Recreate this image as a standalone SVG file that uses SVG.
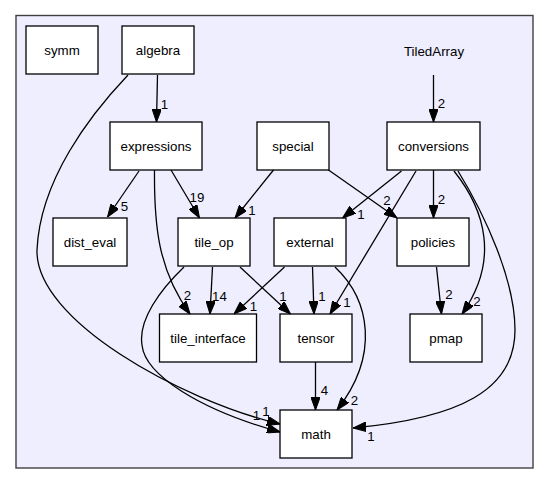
<svg xmlns="http://www.w3.org/2000/svg" width="549" height="485" viewBox="0 0 549 485">
<style>
.cl{fill:#eeeeff;stroke:#404040;stroke-width:1.4}
.nd{fill:#ffffff;stroke:#000000;stroke-width:1.3}
.t{font-family:"Liberation Sans",Arial,sans-serif;font-size:13.3px;fill:#000;text-anchor:middle}
.e{fill:none;stroke:#000;stroke-width:1.3;marker-end:url(#ah)}
.l{font-family:"Liberation Sans",Arial,sans-serif;font-size:13.3px;fill:#000;text-anchor:middle}
</style>
<defs>
<marker id="ah" markerUnits="userSpaceOnUse" viewBox="0 0 13 9.4" markerWidth="13" markerHeight="9.4" refX="13" refY="4.7" orient="auto">
<path d="M0,0 L13,4.7 L0,9.4 z" fill="#000" stroke="#000" stroke-width="1"/>
</marker>
</defs>
<rect x="0" y="0" width="549" height="485" fill="#ffffff"/>
<g id="cluster_TiledArray">
<rect class="cl" x="16" y="15.5" width="517" height="452.5"/>
<text class="t" x="434" y="55.5">TiledArray</text>
</g>
<g id="node_symm"><rect class="nd" x="26" y="26" width="72" height="48"/><text class="t" x="62" y="54.5">symm</text></g>
<g id="node_algebra"><rect class="nd" x="122" y="26" width="72" height="48"/><text class="t" x="158" y="54.5">algebra</text></g>
<g id="node_expressions"><rect class="nd" x="110" y="122" width="92" height="48"/><text class="t" x="156" y="150.5">expressions</text></g>
<g id="node_special"><rect class="nd" x="257" y="122" width="72" height="48"/><text class="t" x="293" y="150.5">special</text></g>
<g id="node_conversions"><rect class="nd" x="387" y="122" width="93" height="48"/><text class="t" x="433.5" y="150.5">conversions</text></g>
<g id="node_dist_eval"><rect class="nd" x="53" y="218" width="74" height="48"/><text class="t" x="90" y="246.5">dist_eval</text></g>
<g id="node_tile_op"><rect class="nd" x="178" y="218" width="72" height="48"/><text class="t" x="214" y="246.5">tile_op</text></g>
<g id="node_external"><rect class="nd" x="274" y="218" width="72" height="48"/><text class="t" x="310" y="246.5">external</text></g>
<g id="node_policies"><rect class="nd" x="397" y="218" width="72" height="48"/><text class="t" x="433" y="246.5">policies</text></g>
<g id="node_tile_interface"><rect class="nd" x="159.5" y="314" width="97" height="48"/><text class="t" x="208" y="342.5">tile_interface</text></g>
<g id="node_tensor"><rect class="nd" x="280" y="314" width="72" height="48"/><text class="t" x="316" y="342.5">tensor</text></g>
<g id="node_pmap"><rect class="nd" x="410" y="314" width="72" height="48"/><text class="t" x="446" y="342.5">pmap</text></g>
<g id="node_math"><rect class="nd" x="280" y="410" width="72" height="48"/><text class="t" x="316" y="438.5">math</text></g>
<g id="connectors">
<path class="e" d="M157.5,75 L156.5,122"/>
<text class="l" x="164.5" y="108.5">1</text>
<path class="e" d="M433.5,75 L433.5,122"/>
<text class="l" x="441.5" y="108">2</text>
<path class="e" d="M128,75 C90,115 40,180 37,250 C35,320 180,400 280,424"/>
<text class="l" x="266" y="416">1</text>
<path class="e" d="M139,171 L107.5,217"/>
<text class="l" x="124.5" y="211">5</text>
<path class="e" d="M171,170 L199.5,218"/>
<text class="l" x="197" y="202">19</text>
<path class="e" d="M154.5,170 C154,225 158,270 190,314"/>
<text class="l" x="187.5" y="299.5">2</text>
<path class="e" d="M273.5,170 L235,218"/>
<text class="l" x="252" y="214.5">1</text>
<path class="e" d="M328.5,170 L397,218"/>
<text class="l" x="387" y="205">2</text>
<path class="e" d="M401.5,171 L342.5,218"/>
<text class="l" x="361" y="218.5">1</text>
<path class="e" d="M416,171 L330,314"/>
<text class="l" x="347" y="307">1</text>
<path class="e" d="M433.5,170 L433.5,218"/>
<text class="l" x="441.5" y="204">2</text>
<path class="e" d="M454,171 C485,210 500,260 462,314"/>
<text class="l" x="477" y="306">2</text>
<path class="e" d="M458,171 C485,215 515,280 515,330 C515,390 460,418 353,428"/>
<text class="l" x="371" y="441">1</text>
<path class="e" d="M184,267 C160,290 138,320 142,345 C145,375 200,410 280,432"/>
<text class="l" x="256.5" y="420">1</text>
<path class="e" d="M212.5,267 L210,314"/>
<text class="l" x="219.5" y="301">14</text>
<path class="e" d="M240,267 L290.5,314"/>
<text class="l" x="283" y="300.5">1</text>
<path class="e" d="M284.5,267 L234,314"/>
<text class="l" x="253.5" y="311">1</text>
<path class="e" d="M312.5,267 L314,314"/>
<text class="l" x="322" y="300.5">1</text>
<path class="e" d="M335,267 C370,300 380,355 337,410"/>
<text class="l" x="354.5" y="404.5">2</text>
<path class="e" d="M436.5,267 L441.5,314"/>
<text class="l" x="449" y="298.5">2</text>
<path class="e" d="M315.5,362 L315.5,410"/>
<text class="l" x="324.5" y="395">4</text>
</g>
</svg>
